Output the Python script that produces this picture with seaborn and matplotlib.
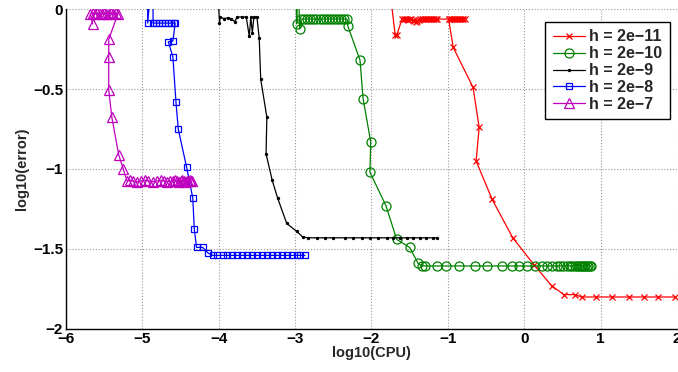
import matplotlib
matplotlib.use("Agg")
import matplotlib.pyplot as plt
import seaborn as sns
import pandas as pd

# h = 2e-11 (red)
x_h11 = [-1.78, -1.69, -1.67, -1.60, -1.58, -1.56, -1.54, -1.52, -1.50, -1.48, -1.46, -1.44,
         -1.42, -1.40, -1.38, -1.36, -1.34, -1.32, -1.30, -1.28, -1.26, -1.24, -1.22, -1.20,
         -1.18, -1.16, -1.14, -0.78, -0.80, -0.82, -0.84, -0.86, -0.88, -0.90, -0.92, -0.94,
         -0.96, -0.98, -0.99, -0.93, -0.67, -0.59, -0.63, -0.42, -0.15, 0.13, 0.36, 0.52,
         0.66, 0.75, 0.94, 1.15, 1.37, 1.57, 1.75, 1.97]
y_h11 = [0.20, -0.16, -0.165, -0.063, -0.063, -0.065, -0.063, -0.07, -0.063, -0.065, -0.07, -0.075,
         -0.08, -0.075, -0.07, -0.065, -0.063, -0.065, -0.063, -0.063, -0.065, -0.063, -0.063, -0.065,
         -0.063, -0.063, -0.063, -0.063, -0.063, -0.065, -0.063, -0.063, -0.065, -0.063, -0.063, -0.065,
         -0.063, -0.063, -0.063, -0.24, -0.49, -0.74, -0.95, -1.19, -1.43, -1.60, -1.73, -1.785,
         -1.785, -1.80, -1.80, -1.80, -1.80, -1.80, -1.80, -1.80]

# h = 2e-10 (green)
x_h10 = [-2.99, -2.98, -2.96, -2.94, -2.92, -2.88, -2.84, -2.80, -2.76, -2.72, -2.68, -2.64,
         -2.60, -2.56, -2.52, -2.48, -2.44, -2.40, -2.36, -2.32, -2.31, -2.15, -2.11, -2.01,
         -2.02, -1.81, -1.67, -1.50, -1.39, -1.34, -1.30, -1.14, -1.03, -0.86, -0.65, -0.49,
         -0.29, -0.16, -0.07, 0.03, 0.14, 0.23, 0.30, 0.36, 0.43, 0.47, 0.51, 0.56, 0.60,
         0.63, 0.66, 0.69, 0.72, 0.74, 0.76, 0.78, 0.80, 0.82, 0.84, 0.86, 0.87]
y_h10 = [0.20, -0.094, 0.20, -0.125, -0.063, -0.063, -0.063, -0.063, -0.063, -0.063, -0.063, -0.063,
         -0.063, -0.063, -0.063, -0.063, -0.063, -0.063, -0.063, -0.063, -0.106, -0.32, -0.56, -0.83,
         -1.02, -1.23, -1.44, -1.49, -1.59, -1.606, -1.606, -1.606, -1.606, -1.606, -1.606, -1.606,
         -1.606, -1.606, -1.606, -1.606, -1.606, -1.606, -1.606, -1.606, -1.606, -1.606, -1.606, -1.606, -1.606,
         -1.606, -1.606, -1.606, -1.606, -1.606, -1.606, -1.606, -1.606, -1.606, -1.606, -1.606, -1.606]

# h = 2e-9 (black)
x_h9 = [-4.02, -3.99, -3.98, -3.93, -3.88, -3.84, -3.79, -3.76, -3.70, -3.64, -3.60, -3.58,
        -3.56, -3.54, -3.50, -3.47, -3.45, -3.37, -3.38, -3.30, -3.23, -3.11, -2.98, -2.90,
        -2.83, -2.71, -2.61, -2.50, -2.35, -2.24, -2.12, -2.02, -1.92, -1.80, -1.72, -1.63,
        -1.54, -1.46, -1.37, -1.28, -1.20, -1.14]
y_h9 = [0.20, -0.085, -0.05, -0.06, -0.055, -0.06, -0.08, -0.05, -0.05, -0.05, -0.17, -0.05,
        -0.15, -0.05, -0.05, -0.18, -0.44, -0.675, -0.906, -1.07, -1.18, -1.34, -1.39, -1.425,
        -1.43, -1.43, -1.43, -1.43, -1.43, -1.43, -1.43, -1.43, -1.43, -1.43, -1.43, -1.43,
        -1.43, -1.43, -1.43, -1.43, -1.43, -1.43]

# h = 2e-8 (blue)
x_h8 = [-4.93, -4.93, -4.86, -4.86, -4.82, -4.78, -4.74, -4.70, -4.66, -4.62, -4.59, -4.57,
        -4.60, -4.66, -4.60, -4.56, -4.53, -4.42, -4.34, -4.32, -4.29, -4.21, -4.14, -4.08,
        -4.02, -3.95, -3.89, -3.82, -3.76, -3.69, -3.63, -3.56, -3.50, -3.43, -3.37, -3.30,
        -3.24, -3.17, -3.11, -3.04, -2.98, -2.93, -2.87]
y_h8 = [0.30, -0.088, 0.30, -0.088, -0.088, -0.088, -0.088, -0.088, -0.088, -0.088, -0.088, -0.088,
        -0.20, -0.205, -0.30, -0.58, -0.75, -0.99, -1.18, -1.375, -1.49, -1.49, -1.525, -1.54,
        -1.54, -1.54, -1.54, -1.54, -1.54, -1.54, -1.54, -1.54, -1.54, -1.54, -1.54, -1.54,
        -1.54, -1.54, -1.54, -1.54, -1.54, -1.54, -1.54]

# h = 2e-7 (magenta)
x_h7 = [-5.65, -5.68, -5.65, -5.62, -5.59, -5.56, -5.53, -5.50, -5.47, -5.44, -5.41, -5.38,
        -5.35, -5.32, -5.44, -5.44, -5.44, -5.40, -5.31, -5.25, -5.20, -5.16, -5.12, -5.07,
        -5.02, -4.97, -4.92, -4.86, -4.81, -4.76, -4.72, -4.68, -4.64, -4.60, -4.57, -4.54,
        -4.52, -4.50, -4.48, -4.46, -4.44, -4.42, -4.40, -4.38, -4.36, -4.35]
y_h7 = [-0.094, -0.03, -0.025, -0.03, -0.028, -0.032, -0.03, -0.025, -0.03, -0.03, -0.028, -0.03,
        -0.025, -0.03, -0.19, -0.30, -0.506, -0.675, -0.91, -1.00, -1.075, -1.07, -1.075, -1.08,
        -1.075, -1.07, -1.075, -1.08, -1.075, -1.07, -1.075, -1.08, -1.075, -1.075, -1.07, -1.075,
        -1.08, -1.075, -1.07, -1.075, -1.08, -1.075, -1.075, -1.07, -1.075, -1.075]

labels = ["h = 2e\u221211", "h = 2e\u221210", "h = 2e\u22129", "h = 2e\u22128", "h = 2e\u22127"]
xs = [x_h11, x_h10, x_h9, x_h8, x_h7]
ys = [y_h11, y_h10, y_h9, y_h8, y_h7]
colors = ["#ff0000", "#008000", "#000000", "#0000ff", "#bf00bf"]
markers = ["x", "o", ".", "s", "^"]
msizes = [4.5, 6.5, 3, 5, 6.5]
faces = ["#ff0000", "none", "#000000", "none", "none"]

sns.set_style("white")
plt.rcParams["font.family"] = ["Liberation Sans", "DejaVu Sans"]
plt.rcParams["font.weight"] = "bold"

fig = plt.figure(figsize=(6.78, 3.72), dpi=100)
ax = fig.add_axes([0.0973, 0.1156, 0.9012, 0.8602])

for x, y, lab, c, m, ms, fc in zip(xs, ys, labels, colors, markers, msizes, faces):
    df = pd.DataFrame({"cpu": x, "err": y})
    sns.lineplot(data=df, x="cpu", y="err", sort=False, estimator=None, ax=ax,
                 color=c, marker=m, markersize=ms, markerfacecolor=fc,
                 markeredgecolor=c, markeredgewidth=0.9, linewidth=0.9, label=lab)

ax.set_xlim(-6, 2)
ax.set_ylim(-2, 0)
ax.set_xticks(range(-6, 3))
ax.set_yticks([-2, -1.5, -1, -0.5, 0])
ax.set_xticklabels(["\u22126", "\u22125", "\u22124", "\u22123", "\u22122", "\u22121", "0", "1", "2"])
ax.set_yticklabels(["\u22122", "\u22121.5", "\u22121", "\u22120.5", "0"])
ax.tick_params(direction="in", length=4, width=0.8, labelsize=11, pad=2, colors="black")
for lbl in ax.get_xticklabels() + ax.get_yticklabels():
    lbl.set_fontweight("bold")
ax.grid(True, linestyle=":", color="#999999", linewidth=0.8)
ax.set_xlabel("log10(CPU)", fontsize=10.5, fontweight="bold", labelpad=0)
ax.set_ylabel("log10(error)", fontsize=10.5, fontweight="bold", labelpad=3)
for s in ["top", "right"]:
    ax.spines[s].set_visible(False)
for s in ["left", "bottom"]:
    ax.spines[s].set_color("black")
    ax.spines[s].set_linewidth(1.0)

leg = ax.legend(loc="upper right", bbox_to_anchor=(0.988, 0.959), borderaxespad=0,
                frameon=True, fancybox=False, edgecolor="black", framealpha=1,
                borderpad=0.45, labelspacing=0.12, handlelength=2.0, handletextpad=0.3,
                prop={"weight": "bold", "size": 11.5})
leg.get_frame().set_linewidth(1.0)

fig.savefig("out.png", dpi=100)
plt.close(fig)
